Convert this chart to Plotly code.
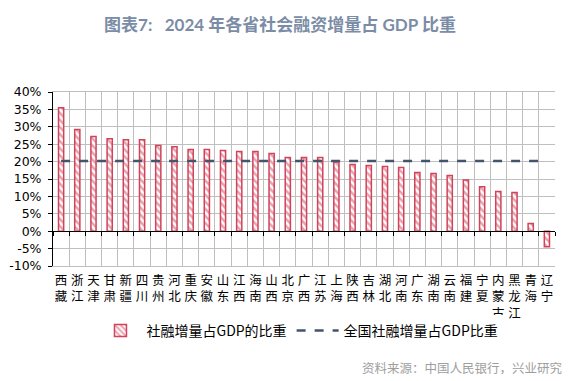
import plotly.graph_objects as go

provinces = ["西藏", "浙江", "天津", "甘肃", "新疆", "四川", "贵州", "河北", "重庆", "安徽",
             "山东", "江西", "海南", "山西", "北京", "广西", "江苏", "上海", "陕西", "吉林",
             "湖北", "河南", "广东", "湖南", "云南", "福建", "宁夏", "内蒙古", "黑龙江", "青海", "辽宁"]
share = [35.5, 29.2, 27.2, 26.6, 26.3, 26.3, 24.6, 24.3, 23.5, 23.5,
         23.2, 22.9, 22.9, 22.3, 21.2, 21.2, 21.2, 19.9, 19.2, 18.9,
         18.6, 18.3, 16.9, 16.6, 16.0, 14.7, 12.8, 11.4, 11.1, 2.2, -4.5]
national = [20.2] * len(provinces)
y_ticks = [-10, -5, 0, 5, 10, 15, 20, 25, 30, 35, 40]

tick_text = ["<br>".join(list(p)) for p in provinces]

RED = "#D1435B"
NAVY = "#44546A"
GRID = "#BFBFBF"

fig = go.Figure()
fig.add_trace(go.Bar(
    x=provinces, y=share, name="社融增量占GDP的比重",
    marker=dict(color="white", line=dict(color=RED, width=1.5),
                pattern=dict(shape="\\", fgcolor=RED, bgcolor="white", size=5, solidity=0.5)),
))
fig.add_trace(go.Scatter(
    x=provinces, y=national, mode="lines", name="全国社融增量占GDP比重",
    line=dict(color=NAVY, width=2.5, dash="dash"),
))
# helper trace for the zero-crossing axis with tick marks
fig.add_trace(go.Scatter(x=provinces, y=[None] * len(provinces), xaxis="x2",
                         showlegend=False, hoverinfo="skip"))

y_dom = [0.0, 1.0]
y_min, y_max = -10, 40
zero_pos = y_dom[0] + (0 - y_min) / (y_max - y_min) * (y_dom[1] - y_dom[0])

fig.update_layout(
    width=584, height=381,
    margin=dict(l=53, r=29, t=92, b=115, autoexpand=False),
    paper_bgcolor="white", plot_bgcolor="white",
    font=dict(family="Noto Sans CJK SC, sans-serif", color="#000000"),
    title=dict(text="<b>图表7:   2024 年各省社会融资增量占 GDP 比重</b>",
               font=dict(size=17, color="#7B8CA6", family="Lato, Noto Sans CJK SC, sans-serif"),
               x=280 / 584, xanchor="center", y=1 - 25 / 381, yanchor="middle",
               xref="container", yref="container", automargin=False),
    bargap=0.68,
    xaxis=dict(type="category", tickson="boundaries", showgrid=True, gridcolor=GRID,
               gridwidth=1, tickvals=provinces, ticktext=tick_text, tickangle=0,
               tickfont=dict(size=12.5, family="Noto Sans CJK SC"), ticks="",
               showline=True, linecolor=GRID, mirror=True, domain=[0, 1],
               automargin=False, ticklabelstandoff=3),
    xaxis2=dict(type="category", overlaying="x", matches="x", anchor="free",
                position=zero_pos, tickson="boundaries", ticks="outside", ticklen=4,
                tickcolor="black", showline=True, linecolor="black", linewidth=1,
                showticklabels=False, showgrid=False, automargin=False),
    yaxis=dict(range=[y_min, y_max], tickvals=y_ticks,
               ticktext=[f"{v}%" for v in y_ticks], showgrid=True, gridcolor=GRID,
               gridwidth=1, zeroline=False, showline=True, linecolor="black",
               ticks="outside", ticklen=4, tickcolor="black",
               tickfont=dict(size=12.5, family="DejaVu Sans"), domain=y_dom,
               automargin=False, ticklabelstandoff=4),
    legend=dict(orientation="h", x=0.49, xanchor="center", y=-(331 - 266) / 174,
                yanchor="middle",
                font=dict(size=14, family="Noto Sans CJK SC"), itemwidth=42,
                traceorder="normal"),
    showlegend=True,
)
fig.add_annotation(text="资料来源：中国人民银行，兴业研究", xref="paper", yref="paper",
                   x=(565 - 53) / 502, xanchor="right", y=-(367 - 266) / 174,
                   yanchor="middle", showarrow=False,
                   font=dict(size=12.5, color="#9E9E9E", family="Noto Sans CJK SC"))

fig.write_html("out.html", config={"displayModeBar": False},
               post_script="document.body.style.margin='0';")
